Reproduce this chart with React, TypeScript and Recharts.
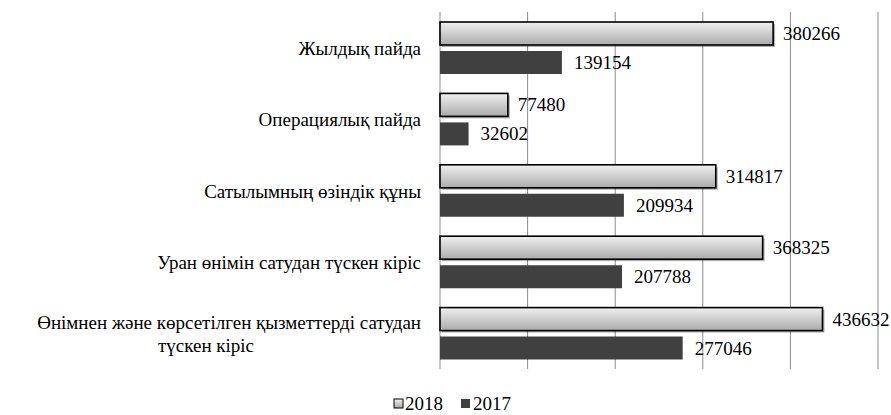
import React from 'react';
import { BarChart, Bar, XAxis, YAxis, CartesianGrid, LabelList } from 'recharts';

const categories = [
  'Жылдық пайда',
  'Операциялық пайда',
  'Сатылымның өзіндік құны',
  'Уран өнімін сатудан түскен кіріс',
  'Өнімнен және көрсетілген қызметтерді сатудан\nтүскен кіріс',
];
const values2018 = [380266, 77480, 314817, 368325, 436632];
const values2017 = [139154, 32602, 209934, 207788, 277046];
const seriesNames = ['2018', '2017'];
const xTicks = [0, 100000, 200000, 300000, 400000, 500000];

const data = categories.map((name, i) => ({
  name,
  v2018: values2018[i],
  v2017: values2017[i],
}));

const FONT = 'Liberation Serif';

const CategoryTick = (props: any) => {
  const { x, y, payload } = props;
  const lines = String(payload.value).split('\n');
  if (lines.length === 1) {
    return (
      <text x={x} y={y} dy={7} textAnchor="end" fontFamily={FONT} fontSize={19} fill="#000">
        {lines[0]}
      </text>
    );
  }
  return (
    <g>
      <text x={x} y={y} dy={-4.5} textAnchor="end" fontFamily={FONT} fontSize={19} fill="#000">
        {lines[0]}
      </text>
      <text x={x - 215} y={y} dy={18.5} textAnchor="middle" fontFamily={FONT} fontSize={19} fill="#000">
        {lines[1]}
      </text>
    </g>
  );
};

const makeLabel = (offset: number) => (props: any) => {
  const { x, y, width, height, value } = props;
  return (
    <text x={x + width + offset} y={y + height / 2} dy={6.5} textAnchor="start" fontFamily={FONT} fontSize={19} fill="#000">
      {value}
    </text>
  );
};

const LightBar = (props: any) => {
  const { x, y, width, height } = props;
  if (!width || width <= 0) return null;
  return (
    <g>
      <rect x={x + 2} y={y + 2} width={width} height={height} fill="#000" fillOpacity={0.3} />
      <rect
        x={x}
        y={y}
        width={width}
        height={height}
        fill="url(#grad2018)"
        stroke="#000"
        strokeWidth={1.6}
      />
    </g>
  );
};

const LegendContent = () => (
  <svg width={891} height={30} style={{ position: 'absolute', left: 0, top: 390 }}>
    <defs>
      <linearGradient id="gradLeg" x1="0" y1="0" x2="0" y2="1">
        <stop offset="0%" stopColor="#f2f2f2" />
        <stop offset="100%" stopColor="#a8a8a8" />
      </linearGradient>
    </defs>
    <rect x={394} y={9} width={9} height={9} fill="url(#gradLeg)" stroke="#000" strokeWidth={1} />
    <text x={405} y={20} fontFamily={FONT} fontSize={19} fill="#000">{seriesNames[0]}</text>
    <rect x={461} y={9} width={9} height={9} fill="#404040" />
    <text x={473} y={20} fontFamily={FONT} fontSize={19} fill="#000">{seriesNames[1]}</text>
  </svg>
);

export default function App() {
  return (
    <div style={{ position: 'absolute', left: 0, top: 0, width: 891, height: 415, background: '#fff' }}>
      <BarChart
        width={891}
        height={415}
        data={data}
        layout="vertical"
        margin={{ top: 12, right: 13, bottom: 46, left: 0 }}
        barCategoryGap={8}
        barGap={6}
      >
        <defs>
          <linearGradient id="grad2018" x1="0" y1="0" x2="0" y2="1">
            <stop offset="0%" stopColor="#f0f0f0" />
            <stop offset="100%" stopColor="#ababab" />
          </linearGradient>
        </defs>
        <CartesianGrid horizontal={false} vertical stroke="#8c8c8c" strokeWidth={1} />
        <XAxis type="number" domain={[0, 500000]} ticks={xTicks} hide />
        <YAxis
          type="category"
          dataKey="name"
          width={440}
          axisLine={false}
          tickLine={false}
          tickSize={0}
          tickMargin={19}
          interval={0}
          tick={<CategoryTick />}
        />
        <Bar dataKey="v2018" name={seriesNames[0]} barSize={23} shape={<LightBar />} isAnimationActive={false}>
          <LabelList dataKey="v2018" content={makeLabel(10)} />
        </Bar>
        <Bar dataKey="v2017" name={seriesNames[1]} barSize={23} fill="#404040" isAnimationActive={false}>
          <LabelList dataKey="v2017" content={makeLabel(12)} />
        </Bar>
      </BarChart>
      <LegendContent />
    </div>
  );
}
